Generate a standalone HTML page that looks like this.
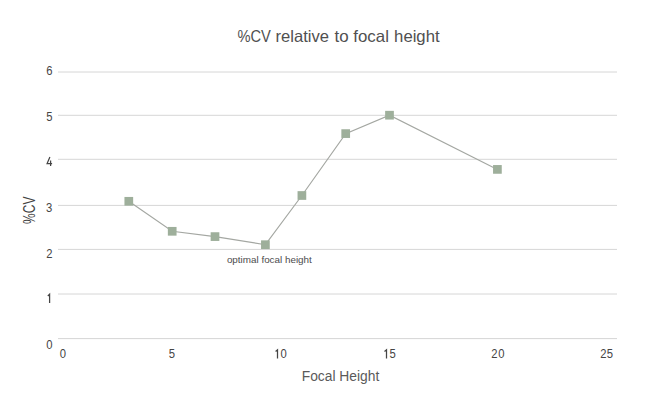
<!DOCTYPE html>
<html>
<head>
<meta charset="utf-8">
<style>
html,body{margin:0;padding:0;background:#fff;}
body{width:650px;height:409px;overflow:hidden;}
svg{display:block;}
text{font-family:"Liberation Sans",sans-serif;}
</style>
</head>
<body>
<svg width="650" height="409" viewBox="0 0 650 409" xmlns="http://www.w3.org/2000/svg">
<rect width="650" height="409" fill="#fff"/>
<g stroke="#d6d6d6" stroke-width="1">
<line x1="58" y1="72.0" x2="617" y2="72.0"/>
<line x1="58" y1="115.3" x2="617" y2="115.3"/>
<line x1="58" y1="159.3" x2="617" y2="159.3"/>
<line x1="58" y1="205.4" x2="617" y2="205.4"/>
<line x1="58" y1="249.4" x2="617" y2="249.4"/>
<line x1="58" y1="294.0" x2="617" y2="294.0"/>
<line x1="58" y1="338.6" x2="617" y2="338.6"/>
</g>
<g font-size="16.5" fill="#505050">
<text x="237.40" y="41.7" textLength="33.40" lengthAdjust="spacingAndGlyphs">%CV</text>
<text x="275.60" y="41.7" textLength="53.50" lengthAdjust="spacingAndGlyphs">relative</text>
<text x="334.50" y="41.7" textLength="14.10" lengthAdjust="spacingAndGlyphs">to</text>
<text x="353.30" y="41.7" textLength="35.60" lengthAdjust="spacingAndGlyphs">focal</text>
<text x="394.10" y="41.7" textLength="45.50" lengthAdjust="spacingAndGlyphs">height</text>
</g>
<g font-size="12.8" fill="#454545" text-anchor="middle">
<text transform="translate(49.4,74.9) scale(0.88,1)">6</text>
<text transform="translate(49.4,120.6) scale(0.88,1)">5</text>
<text transform="translate(49.2,211.9) scale(0.88,1)">3</text>
<text transform="translate(49.4,257.6) scale(0.88,1)">2</text>
<text transform="translate(49.3,348.7) scale(0.88,1)">0</text>
<text transform="translate(62.95,358.3) scale(0.88,1)">0</text>
<text transform="translate(171.8,358.3) scale(0.88,1)">5</text>
<text transform="translate(283.65,358.3) scale(0.88,1)">0</text>
<text transform="translate(392.55,358.3) scale(0.88,1)">5</text>
<text transform="translate(494.45,358.2) scale(0.88,1)">2</text>
<text transform="translate(501.35,358.3) scale(0.88,1)">0</text>
<text transform="translate(603.35,358.3) scale(0.88,1)">2</text>
<text transform="translate(609.75,358.3) scale(0.88,1)">5</text>
</g>
<g fill="none" stroke="#454545" stroke-width="1.25">
<path d="M49.6 302.9V294.3L47.8 296"/>
<path d="M49.9 157.1L47.1 163.6H52.1M50.6 160.6V165.9"/>
<path d="M277.5 358.6V349.8L275.6 351.5"/>
<path d="M386.5 358.6V349.8L384.5 351.5"/>
</g>
<text x="301.7" y="380.5" font-size="14" fill="#5a5a5a" textLength="77.6" lengthAdjust="spacingAndGlyphs">Focal Height</text>
<text transform="translate(34.5,223.9) rotate(-90)" font-size="15.6" fill="#444" textLength="27.3" lengthAdjust="spacingAndGlyphs">%CV</text>
<text x="226.9" y="262.6" font-size="9.6" fill="#4c4c4c" textLength="84.9" lengthAdjust="spacingAndGlyphs">optimal focal height</text>
<polyline fill="none" stroke="#a4a7a2" stroke-width="1.15" points="128.8,201.3 172.2,231.3 215,236.6 265.4,244.7 301.9,195.5 345.7,133.6 389.5,115.2 497.4,169.4"/>
<g fill="#9eaf9b">
<rect x="124.45" y="196.95" width="8.7" height="8.7"/>
<rect x="167.85" y="226.95" width="8.7" height="8.7"/>
<rect x="210.65" y="232.25" width="8.7" height="8.7"/>
<rect x="261.05" y="240.35" width="8.7" height="8.7"/>
<rect x="297.55" y="191.15" width="8.7" height="8.7"/>
<rect x="341.35" y="129.25" width="8.7" height="8.7"/>
<rect x="385.15" y="110.85" width="8.7" height="8.7"/>
<rect x="493.05" y="165.05" width="8.7" height="8.7"/>
</g>
</svg>
</body>
</html>
